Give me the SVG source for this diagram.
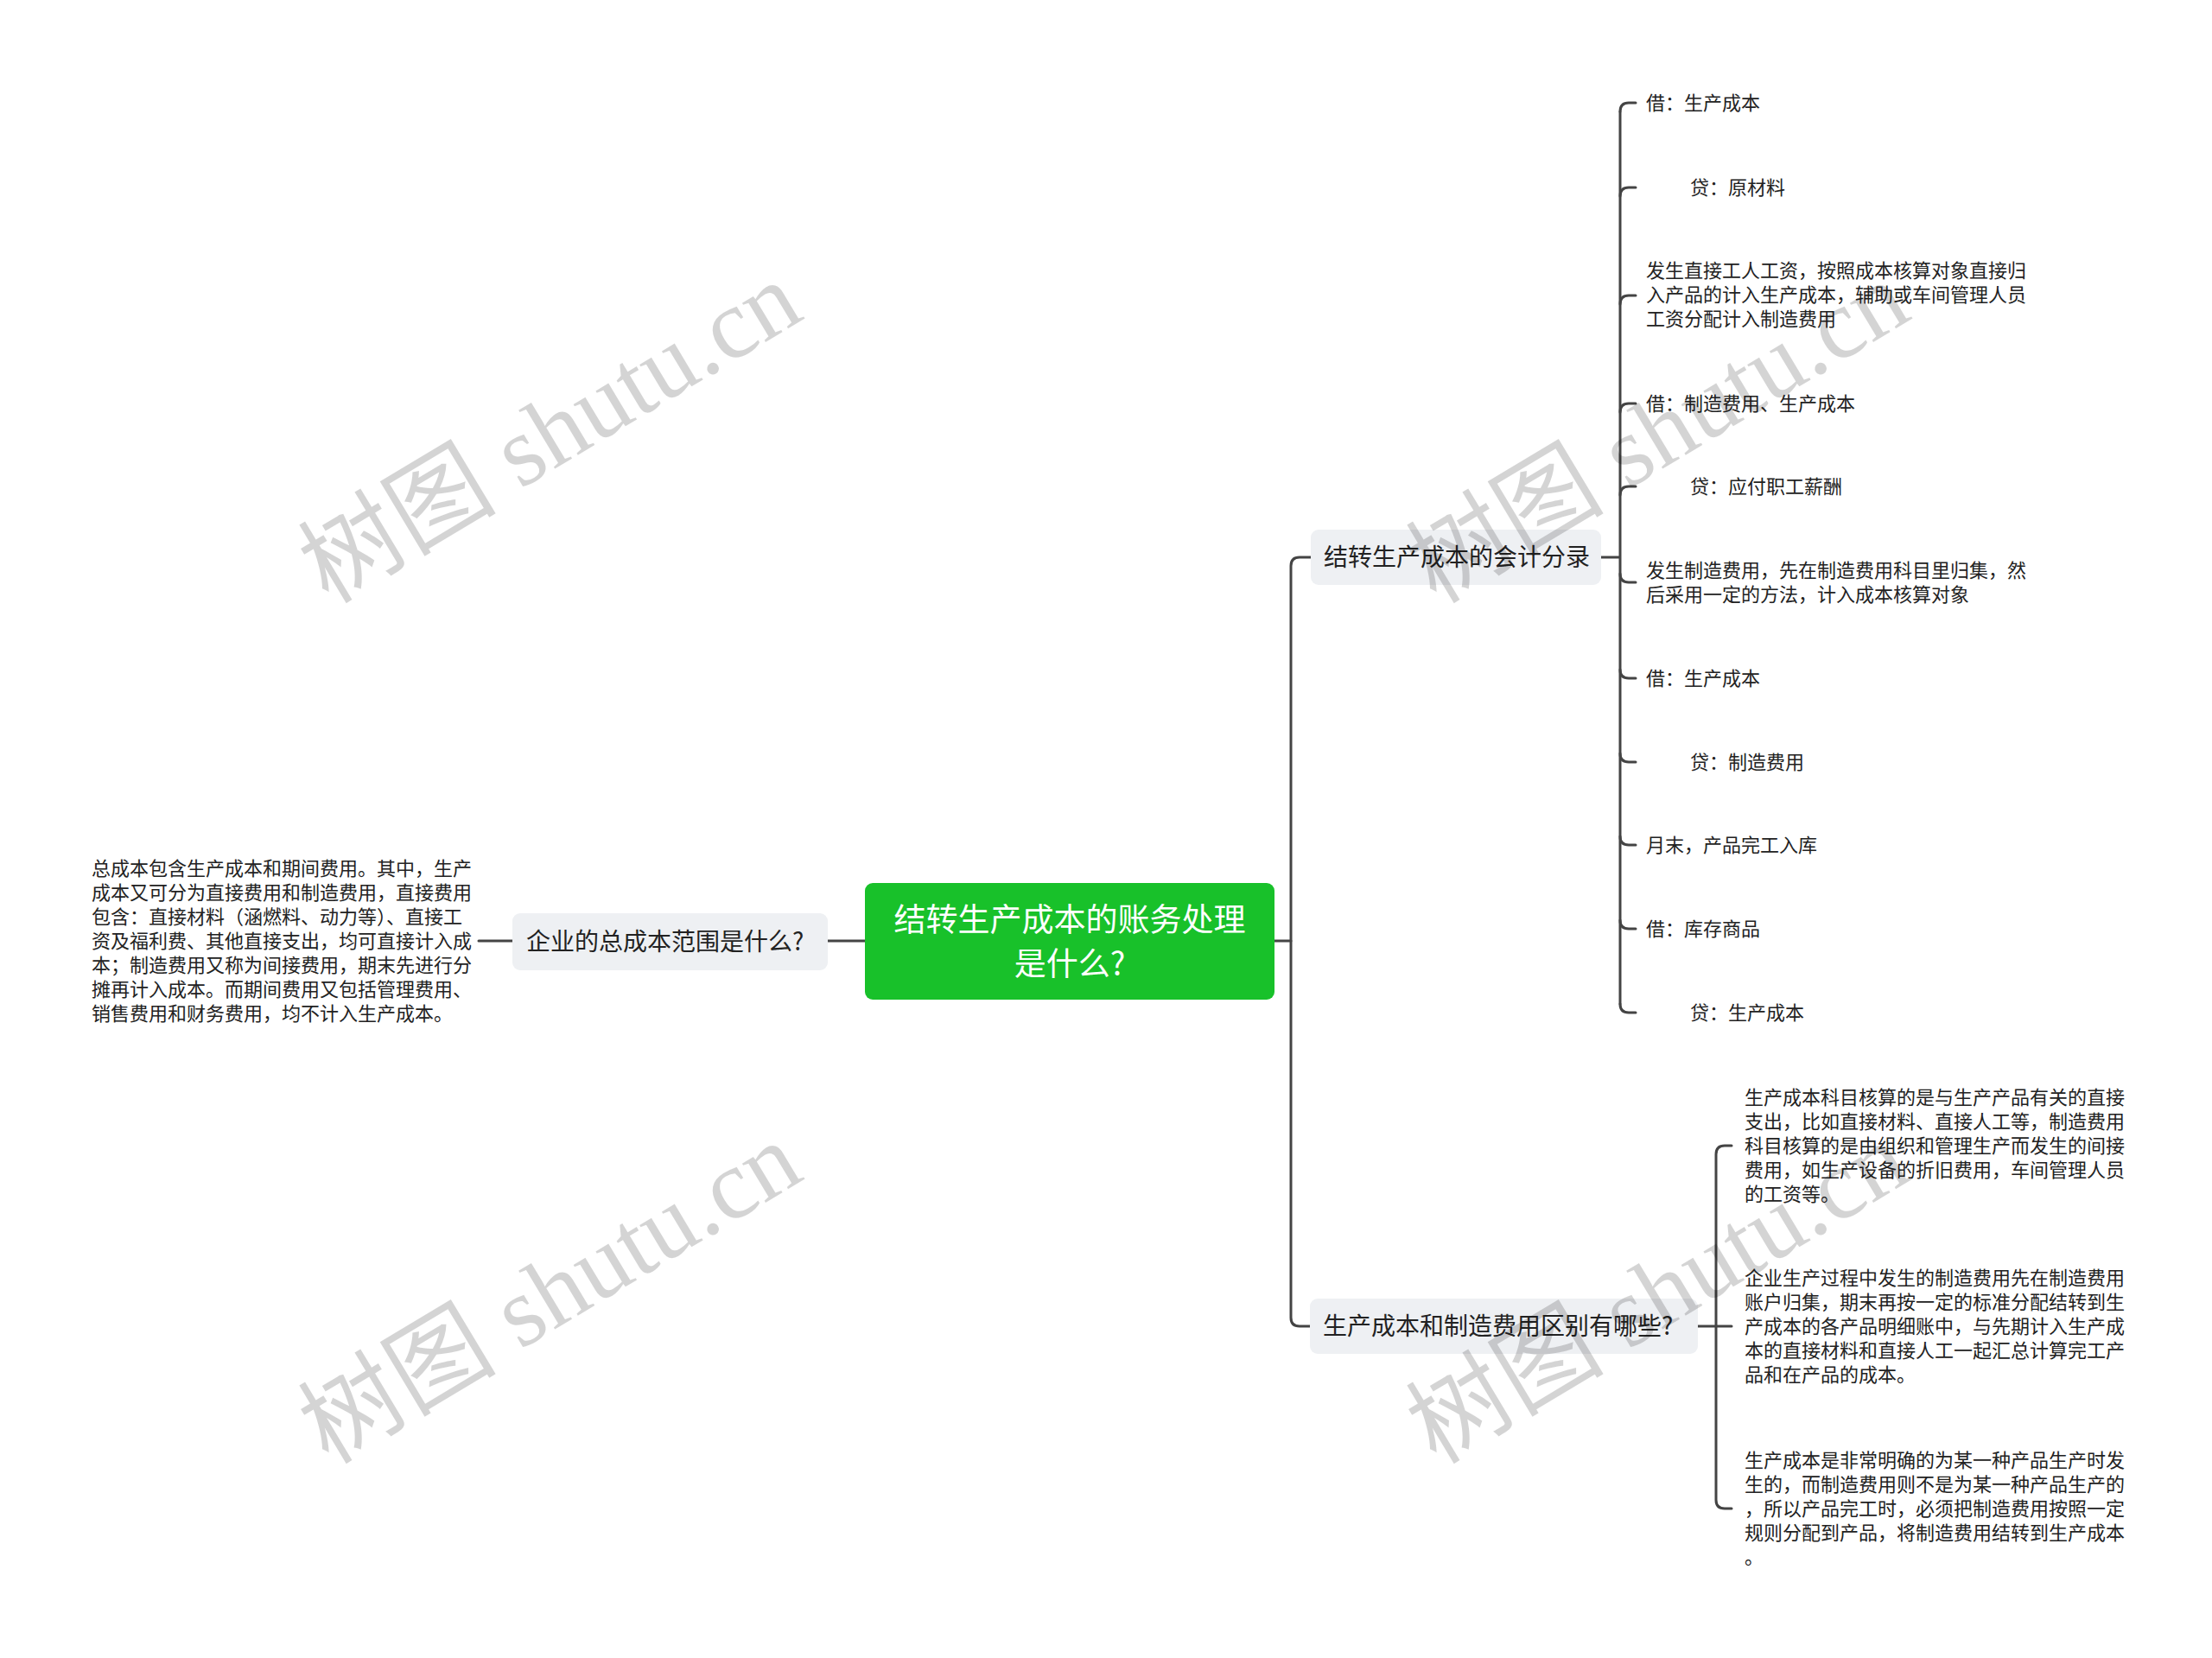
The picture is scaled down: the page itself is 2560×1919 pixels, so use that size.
<svg xmlns="http://www.w3.org/2000/svg" width="2560" height="1919" viewBox="0 0 2560 1919">
<style>
.t{font-family:"Noto Sans CJK SC","Noto Sans",sans-serif;fill:#222;}
.s{font-size:22px;}
.b{font-size:28px;}
.c{font-size:37px;fill:#fff;}
.ln{fill:none;stroke:#444;stroke-width:3;stroke-linecap:round;}
.wm{font-family:"Liberation Serif","Noto Sans CJK SC",serif;font-size:115px;fill:#000;fill-opacity:0.17;}
</style>
<rect width="2560" height="1919" fill="#fff"/>
<g id="connectors" class="ln">
<path d="M554 1089H593M958 1089H1001M1475 1089H1494"/>
<path d="M1517 645H1504Q1494 645 1494 655V1525Q1494 1535 1504 1535H1516"/>
<path d="M1853 645H1875M1875 129V1162"/>
<path d="M1875 129Q1875 119 1885 119H1893M1875 227Q1875 217 1885 217H1893M1875 352Q1875 342 1885 342H1893M1875 477Q1875 467 1885 467H1893M1875 573Q1875 563 1885 563H1893"/>
<path d="M1875 664Q1875 674 1885 674H1893M1875 775Q1875 785 1885 785H1893M1875 872Q1875 882 1885 882H1893M1875 968Q1875 978 1885 978H1893M1875 1065Q1875 1075 1885 1075H1893M1875 1162Q1875 1172 1885 1172H1893"/>
<path d="M1965 1535H2004M1986 1336V1736M1986 1336Q1986 1326 1996 1326H2004M1986 1736Q1986 1746 1996 1746H2004"/>
</g>
<g id="center">
<rect x="1001" y="1022" width="474" height="135" rx="9" fill="#18c12a"/>
<text class="t c" text-anchor="middle"><tspan x="1238" y="1078">结转生产成本的账务处理</tspan><tspan x="1238" y="1129">是什么?</tspan></text>
</g>
<g id="left-branch">
<rect x="593" y="1057" width="365" height="66" rx="9" fill="#eef0f3"/>
<text class="t b" x="609" y="1100">企业的总成本范围是什么?</text>
</g>
<g id="left-leaf">
<text class="t s"><tspan x="106" y="1013">总成本包含生产成本和期间费用。其中，生产</tspan><tspan x="106" y="1041">成本又可分为直接费用和制造费用，直接费用</tspan><tspan x="106" y="1069">包含：直接材料（涵燃料、动力等）、直接工</tspan><tspan x="106" y="1097">资及福利费、其他直接支出，均可直接计入成</tspan><tspan x="106" y="1125">本；制造费用又称为间接费用，期末先进行分</tspan><tspan x="106" y="1153">摊再计入成本。而期间费用又包括管理费用、</tspan><tspan x="106" y="1181">销售费用和财务费用，均不计入生产成本。</tspan></text>
</g>
<g id="branch1">
<rect x="1517" y="613" width="336" height="64" rx="9" fill="#eef0f3"/>
<text class="t b" x="1532" y="655">结转生产成本的会计分录</text>
</g>
<g id="b1-c1"><text class="t s" x="1905" y="127">借：生产成本</text></g>
<g id="b1-c2"><text class="t s" x="1956" y="225">贷：原材料</text></g>
<g id="b1-c3"><text class="t s"><tspan x="1905" y="321">发生直接工人工资，按照成本核算对象直接归</tspan><tspan x="1905" y="349">入产品的计入生产成本，辅助或车间管理人员</tspan><tspan x="1905" y="377">工资分配计入制造费用</tspan></text></g>
<g id="b1-c4"><text class="t s" x="1905" y="475">借：制造费用、生产成本</text></g>
<g id="b1-c5"><text class="t s" x="1956" y="571">贷：应付职工薪酬</text></g>
<g id="b1-c6"><text class="t s"><tspan x="1905" y="668">发生制造费用，先在制造费用科目里归集，然</tspan><tspan x="1905" y="696">后采用一定的方法，计入成本核算对象</tspan></text></g>
<g id="b1-c7"><text class="t s" x="1905" y="793">借：生产成本</text></g>
<g id="b1-c8"><text class="t s" x="1956" y="890">贷：制造费用</text></g>
<g id="b1-c9"><text class="t s" x="1905" y="986">月末，产品完工入库</text></g>
<g id="b1-c10"><text class="t s" x="1905" y="1083">借：库存商品</text></g>
<g id="b1-c11"><text class="t s" x="1956" y="1180">贷：生产成本</text></g>
<g id="branch2">
<rect x="1516" y="1503" width="449" height="64" rx="9" fill="#eef0f3"/>
<text class="t b" x="1531" y="1545">生产成本和制造费用区别有哪些?</text>
</g>
<g id="b2-c1"><text class="t s"><tspan x="2019" y="1278">生产成本科目核算的是与生产产品有关的直接</tspan><tspan x="2019" y="1306">支出，比如直接材料、直接人工等，制造费用</tspan><tspan x="2019" y="1334">科目核算的是由组织和管理生产而发生的间接</tspan><tspan x="2019" y="1362">费用，如生产设备的折旧费用，车间管理人员</tspan><tspan x="2019" y="1390">的工资等。</tspan></text></g>
<g id="b2-c2"><text class="t s"><tspan x="2019" y="1487">企业生产过程中发生的制造费用先在制造费用</tspan><tspan x="2019" y="1515">账户归集，期末再按一定的标准分配结转到生</tspan><tspan x="2019" y="1543">产成本的各产品明细账中，与先期计入生产成</tspan><tspan x="2019" y="1571">本的直接材料和直接人工一起汇总计算完工产</tspan><tspan x="2019" y="1599">品和在产品的成本。</tspan></text></g>
<g id="b2-c3"><text class="t s"><tspan x="2019" y="1698">生产成本是非常明确的为某一种产品生产时发</tspan><tspan x="2019" y="1726">生的，而制造费用则不是为某一种产品生产的</tspan><tspan x="2019" y="1754">，所以产品完工时，必须把制造费用按照一定</tspan><tspan x="2019" y="1782">规则分配到产品，将制造费用结转到生产成本</tspan><tspan x="2019" y="1810">。</tspan></text></g>
<g id="watermarks" class="wm">
<text x="380" y="700" transform="rotate(-31 380 700)">树图 shutu.cn</text>
<text x="380" y="1696" transform="rotate(-31 380 1696)">树图 shutu.cn</text>
<text x="1662" y="700" transform="rotate(-31 1662 700)">树图 shutu.cn</text>
<text x="1662" y="1696" transform="rotate(-31 1662 1696)">树图 shutu.cn</text>
</g>
</svg>
